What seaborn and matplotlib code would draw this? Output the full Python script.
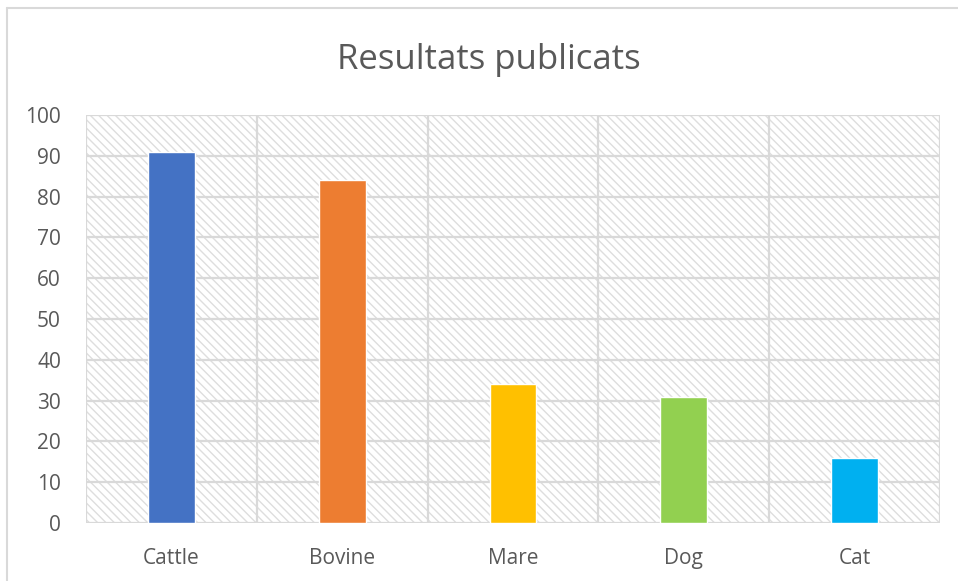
import matplotlib
matplotlib.use("Agg")
import matplotlib.pyplot as plt
import seaborn as sns
import pandas as pd
from matplotlib.patches import Rectangle
from matplotlib.lines import Line2D

categories = ["Cattle", "Bovine", "Mare", "Dog", "Cat"]
values = [91, 84, 34, 31, 16]
colors = ["#4472C4", "#ED7D31", "#FFC000", "#92D050", "#00B0F0"]
yticks = [0, 10, 20, 30, 40, 50, 60, 70, 80, 90, 100]
title = "Resultats publicats"

sns.set_theme(style="white")
plt.rcParams["font.family"] = ["Open Sans", "DejaVu Sans"]
plt.rcParams["hatch.color"] = "#dedede"
plt.rcParams["hatch.linewidth"] = 1.0

df = pd.DataFrame({"category": categories, "value": values})

fig = plt.figure(figsize=(9.58, 5.81), dpi=100)
ax = fig.add_axes([86 / 958, 58 / 581, 854 / 958, 408 / 581])

# hatched plot-area background
bg = Rectangle((0, 0), 1, 1, transform=ax.transAxes, facecolor="white",
               edgecolor="#dedede", hatch="\\\\\\\\", linewidth=0, zorder=0)
ax.add_patch(bg)

sns.barplot(data=df, x="category", y="value", hue="category",
            palette=colors, width=0.275, legend=False, ax=ax,
            saturation=1, zorder=3)

ax.set_xlim(-0.5, len(categories) - 0.5)
ax.set_ylim(0, 100)
ax.set_yticks(yticks)
ax.set_xlabel("")
ax.set_ylabel("")

# gridlines: horizontal at ticks, vertical between categories
for y in yticks:
    ax.axhline(y, color="#d9d9d9", lw=1.6, zorder=1)
for i in range(len(categories) + 1):
    ax.axvline(i - 0.5, color="#d9d9d9", lw=1.6, zorder=1)

for s in ax.spines.values():
    s.set_visible(False)

ax.tick_params(axis="both", length=0, labelsize=15, colors="#595959")
ax.tick_params(axis="x", pad=18)
ax.tick_params(axis="y", pad=18)

fig.text(489 / 958, 1 - 60 / 581, title, ha="center", va="center",
         fontsize=25, color="#595959")

# outer chart frame
fig.add_artist(Line2D([7 / 958, 1], [1 - 8 / 581, 1 - 8 / 581],
                      color="#d9d9d9", lw=1.5, transform=fig.transFigure))
fig.add_artist(Line2D([7 / 958, 7 / 958], [0, 1 - 8 / 581],
                      color="#d9d9d9", lw=1.5, transform=fig.transFigure))

fig.savefig("out.png", dpi=100)
